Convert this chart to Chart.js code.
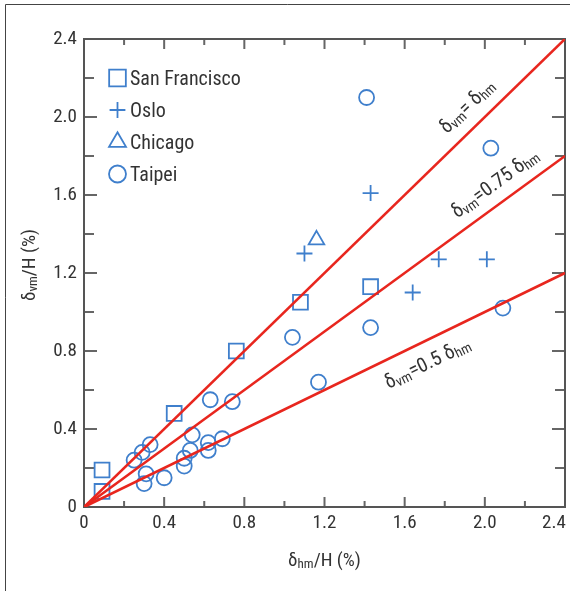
<!DOCTYPE html>
<html>
<head>
<meta charset="utf-8">
<script src="https://cdn.jsdelivr.net/npm/chart.js@4/dist/chart.umd.min.js"></script>
<style>
html,body{margin:0;padding:0;background:#fff;}
#wrap{width:570px;height:591px;position:relative;}
</style>
</head>
<body>
<div id="wrap"><canvas id="c" width="570" height="591"></canvas></div>
<script>
// ---- data ----
const seriesNames = ['San Francisco', 'Oslo', 'Chicago', 'Taipei'];
const sfX = [0.09, 0.09, 0.45, 0.76, 1.08, 1.43];
const sfY = [0.19, 0.08, 0.48, 0.80, 1.05, 1.13];
const osloX = [1.10, 1.43, 1.64, 1.77, 2.01];
const osloY = [1.30, 1.61, 1.10, 1.27, 1.27];
const chicagoX = [1.16];
const chicagoY = [1.37];
const taipeiX = [1.41, 2.03, 2.09, 1.43, 1.04, 1.17, 0.63, 0.74, 0.54, 0.69, 0.62, 0.62, 0.33, 0.29, 0.25, 0.53, 0.50, 0.50, 0.31, 0.30, 0.40];
const taipeiY = [2.10, 1.84, 1.02, 0.92, 0.87, 0.64, 0.55, 0.54, 0.37, 0.35, 0.33, 0.29, 0.32, 0.28, 0.24, 0.29, 0.25, 0.21, 0.17, 0.12, 0.15];
const refLineX = [0, 2.4];
const refLine100Y = [0, 2.4];
const refLine75Y = [0, 1.8];
const refLine50Y = [0, 1.2];
const xTickLabels = ['0', '0.4', '0.8', '1.2', '1.6', '2.0', '2.4'];
const yTickLabels = ['0', '0.4', '0.8', '1.2', '1.6', '2.0', '2.4'];

const BLUE = '#3f7fcc';
const RED = '#e8261e';
const TXT = '#333333';
const FONT = "'Liberation Sans Narrow', 'Roboto Condensed', 'Liberation Sans', Arial, sans-serif";

function pts(xs, ys) { return xs.map((x, i) => ({x: x, y: ys[i]})); }

function marker(label, xs, ys, style, r) {
  return {
    label: label, data: pts(xs, ys), pointStyle: style, pointRadius: r, pointHoverRadius: r,
    borderColor: BLUE, backgroundColor: 'rgba(0,0,0,0)', pointBorderWidth: 1.8, borderWidth: 1.8,
    showLine: false, order: 2
  };
}
function refLine(ys) {
  return {
    label: '', data: pts(refLineX, ys), showLine: true, pointRadius: 0, pointHoverRadius: 0,
    borderColor: RED, borderWidth: 2.6, fill: false, order: 1, isRef: true
  };
}

function tickText(list) {
  return function(v) {
    const k = Math.round(v / 0.2);
    if (k % 2 !== 0) return '';
    return list[k / 2];
  };
}

// draw text with subscripts: parts = [[text, isSub], ...]
function drawRich(ctx, parts, x, y, main, sub, align) {
  let w = 0;
  const widths = parts.map(p => { ctx.font = (p[1] ? sub : main) + 'px ' + FONT; const m = ctx.measureText(p[0]).width; w += m; return m; });
  let cx = align === 'center' ? x - w / 2 : x;
  parts.forEach((p, i) => {
    ctx.font = (p[1] ? sub : main) + 'px ' + FONT;
    ctx.fillText(p[0], cx, y + (p[1] ? main * 0.12 : 0));
    cx += widths[i];
  });
}

const decor = {
  id: 'decor',
  beforeDraw(chart) {
    // keep the last x tick label inside the canvas (as in the original figure)
    const x = chart.scales.x;
    if (x && x.getLabelItems) {
      const items = x.getLabelItems(chart.chartArea);
      const last = items && items[items.length - 1];
      if (last && last.options && last.options.translation) last.options.translation[0] -= 11;
    }
  },
  beforeDatasetsDraw(chart) {
    const {ctx, chartArea: a, scales: {x, y}} = chart;
    ctx.save();
    // outer frame
    ctx.strokeStyle = '#444'; ctx.lineWidth = 1;
    ctx.beginPath(); ctx.moveTo(5.5, 591); ctx.lineTo(5.5, 4.5); ctx.lineTo(570, 4.5); ctx.stroke();
    // ticks (inward, all four sides)
    ctx.strokeStyle = '#666'; ctx.lineWidth = 2;
    x.ticks.forEach(t => {
      const px = x.getPixelForValue(t.value);
      const L = (Math.round(t.value / 0.2) % 2 === 0) ? 10 : 6;
      ctx.beginPath();
      ctx.moveTo(px, a.bottom); ctx.lineTo(px, a.bottom - L);
      ctx.moveTo(px, a.top); ctx.lineTo(px, a.top + L);
      ctx.stroke();
    });
    y.ticks.forEach(t => {
      const py = y.getPixelForValue(t.value);
      const L = (Math.round(t.value / 0.2) % 2 === 0) ? 13 : 10;
      ctx.beginPath();
      ctx.moveTo(a.left, py); ctx.lineTo(a.left + L, py);
      ctx.moveTo(a.right, py); ctx.lineTo(a.right - L, py);
      ctx.stroke();
    });
    // axes box
    ctx.strokeStyle = '#555'; ctx.lineWidth = 2;
    ctx.strokeRect(a.left, a.top, a.right - a.left, a.bottom - a.top);
    ctx.restore();
  },
  afterDraw(chart) {
    const {ctx, chartArea: a, scales: {x, y}} = chart;
    ctx.save();
    ctx.fillStyle = TXT;
    ctx.textBaseline = 'alphabetic';
    // axis titles
    drawRich(ctx, [['δ', false], ['hm', true], ['/H (%)', false]], (a.left + a.right) / 2, a.bottom + 59, 19, 13, 'center');
    ctx.save();
    ctx.translate(a.left - 49, (a.top + a.bottom) / 2 - 8);
    ctx.rotate(-Math.PI / 2);
    drawRich(ctx, [['δ', false], ['vm', true], ['/H (%)', false]], 0, 0, 19, 13, 'center');
    ctx.restore();
    // reference line labels
    const labels = [
      {k: 1.0, x0: 1.86, off: -14, parts: [['δ', false], ['vm', true], ['= δ', false], ['hm', true]]},
      {k: 0.75, x0: 1.90, off: -13, parts: [['δ', false], ['vm', true], ['=0.75 δ', false], ['hm', true]]},
      {k: 0.5, x0: 1.46, off: 27, parts: [['δ', false], ['vm', true], ['=0.5 δ', false], ['hm', true]]}
    ];
    labels.forEach(L => {
      const px = x.getPixelForValue(L.x0), py = y.getPixelForValue(L.k * L.x0);
      const ang = Math.atan2(y.getPixelForValue(L.k) - y.getPixelForValue(0), x.getPixelForValue(1) - x.getPixelForValue(0));
      ctx.save();
      ctx.translate(px, py);
      ctx.rotate(ang);
      drawRich(ctx, L.parts, 0, L.off, 20, 14, 'left');
      ctx.restore();
    });
    // legend (inside plot, top-left)
    const ds = chart.data.datasets.filter(d => !d.isRef);
    const legR = {rect: 11.8, cross: 7.9, triangle: 9.8, circle: 8.5};
    ds.forEach((d, i) => {
      const cx = a.left + 33.5, cy = a.top + 39 + i * 32;
      ctx.save();
      ctx.strokeStyle = BLUE; ctx.fillStyle = 'rgba(0,0,0,0)'; ctx.lineWidth = 1.8;
      Chart.helpers.drawPoint(ctx, {pointStyle: d.pointStyle, radius: legR[d.pointStyle], rotation: 0, borderWidth: 1.8}, cx, cy);
      ctx.restore();
      ctx.font = '20px ' + FONT;
      ctx.fillStyle = TXT;
      ctx.fillText(d.label, a.left + 46, cy + 7);
    });
    ctx.restore();
  }
};

new Chart(document.getElementById('c'), {
  type: 'scatter',
  data: {
    datasets: [
      marker(seriesNames[0], sfX, sfY, 'rect', 10.5),
      marker(seriesNames[1], osloX, osloY, 'cross', 8),
      marker(seriesNames[2], chicagoX, chicagoY, 'triangle', 9),
      marker(seriesNames[3], taipeiX, taipeiY, 'circle', 7.5),
      refLine(refLine100Y),
      refLine(refLine75Y),
      refLine(refLine50Y)
    ]
  },
  options: {
    responsive: false,
    devicePixelRatio: 1,
    animation: false,
    layout: {autoPadding: false, padding: {left: 0, top: 39, right: 5, bottom: 0}},
    plugins: {legend: {display: false}, tooltip: {enabled: false}},
    scales: {
      x: {
        type: 'linear', min: 0, max: 2.4, position: 'bottom',
        afterFit(s) { s.height = 84; s.paddingLeft = 0; s.paddingRight = 0; },
        grid: {display: false, drawTicks: false},
        border: {display: false},
        ticks: {stepSize: 0.2, autoSkip: false, maxRotation: 0, padding: 5, color: TXT,
          font: {family: FONT, size: 19}, callback: tickText(xTickLabels)}
      },
      y: {
        type: 'linear', min: 0, max: 2.4,
        afterFit(s) { s.width = 84; s.paddingTop = 0; s.paddingBottom = 0; },
        grid: {display: false, drawTicks: false},
        border: {display: false},
        ticks: {stepSize: 0.2, autoSkip: false, padding: 7, color: TXT,
          font: {family: FONT, size: 19}, callback: tickText(yTickLabels)}
      }
    }
  },
  plugins: [decor]
});
</script>
</body>
</html>
